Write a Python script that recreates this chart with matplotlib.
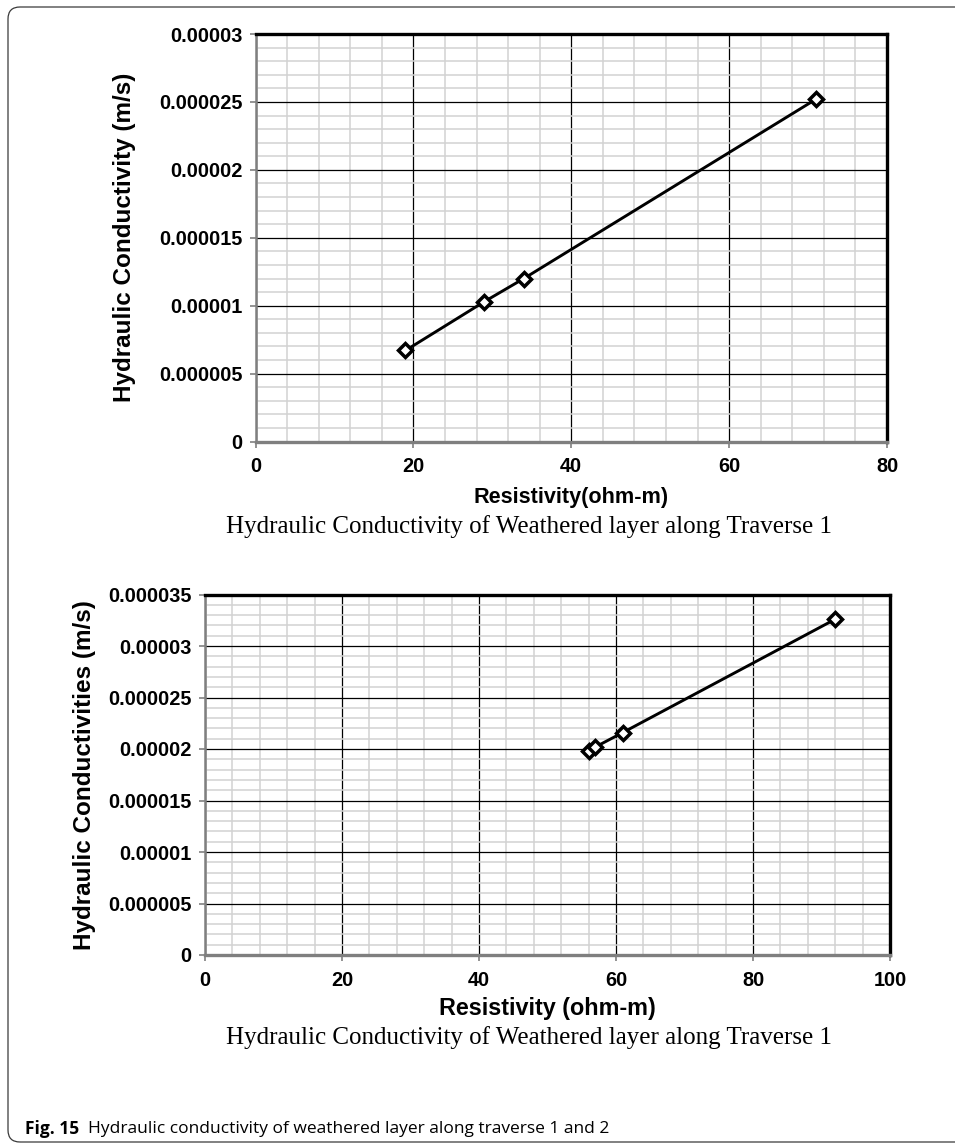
import numpy as np
import matplotlib
matplotlib.use("Agg")
from matplotlib import pyplot as plt
from matplotlib.ticker import MultipleLocator, FuncFormatter
from matplotlib.patches import FancyBboxPatch
from matplotlib.transforms import IdentityTransform

# traverse 1 (top panel)
t1_resistivity = [19, 29, 34, 71]
t1_conductivity = [6.7e-6, 1.03e-5, 1.2e-5, 2.52e-5]

# traverse 2 (bottom panel)
t2_resistivity = [56, 57, 61, 92]
t2_conductivity = [1.98e-5, 2.02e-5, 2.16e-5, 3.26e-5]

caption = "Hydraulic Conductivity of Weathered layer along Traverse 1"

W, H = 955, 1144
fig = plt.figure(figsize=(W / 100, H / 100), dpi=100)

SANS = "Liberation Sans"


def fmt(v, pos):
    s = format(v, ".6f").rstrip("0").rstrip(".")
    return s if s else "0"


def style_axes(ax, xmax, ymax):
    ax.set_xlim(0, xmax)
    ax.set_ylim(0, ymax)
    ax.xaxis.set_major_locator(MultipleLocator(20))
    ax.xaxis.set_minor_locator(MultipleLocator(4))
    ax.yaxis.set_major_locator(MultipleLocator(5e-6))
    ax.yaxis.set_minor_locator(MultipleLocator(1e-6))
    ax.yaxis.set_major_formatter(FuncFormatter(fmt))
    ax.grid(which="minor", color="#d2d2d2", lw=1.1, zorder=0)
    ax.grid(which="major", color="black", lw=0.9, zorder=1)
    ax.set_axisbelow(True)
    ax.tick_params(which="major", direction="out", length=4.5, width=1.2,
                   color="#808080", labelsize=14.3)
    ax.tick_params(axis="x", pad=7)
    ax.tick_params(axis="y", pad=5)
    ax.tick_params(which="minor", length=0)
    for lab in ax.get_xticklabels() + ax.get_yticklabels():
        lab.set_fontfamily(SANS)
        lab.set_fontweight("bold")
    ax.spines["left"].set_color("#7f7f7f")
    ax.spines["left"].set_linewidth(1.8)
    ax.spines["bottom"].set_color("#7f7f7f")
    ax.spines["bottom"].set_linewidth(2.4)
    ax.spines["top"].set_color("black")
    ax.spines["top"].set_linewidth(2.4)
    ax.spines["right"].set_color("black")
    ax.spines["right"].set_linewidth(2.4)


def plot_series(ax, x, y):
    ax.plot(x, y, color="black", lw=2.1, marker="D", markersize=7.5,
            markerfacecolor="white", markeredgecolor="black",
            markeredgewidth=2.5, zorder=3, clip_on=False)


# top panel
ax1 = fig.add_axes([255.5 / W, 1 - 441.5 / H, 631.5 / W, 407.5 / H])
style_axes(ax1, 80, 3e-5)
plot_series(ax1, t1_resistivity, t1_conductivity)
ax1.set_xlabel("Resistivity(ohm-m)", fontfamily=SANS, fontweight="bold",
               fontsize=15.6, va="center")
ax1.xaxis.set_label_coords(0.5, -(498 - 441.5) / 407.5)
ax1.set_ylabel("Hydraulic Conductivity (m/s)", fontfamily=SANS,
               fontweight="bold", fontsize=17.5, va="center")
ax1.yaxis.set_label_coords(-(255.5 - 125) / 631.5, 0.5)

# bottom panel
ax2 = fig.add_axes([205 / W, 1 - 955 / H, 685 / W, 360.5 / H])
style_axes(ax2, 100, 3.5e-5)
plot_series(ax2, t2_resistivity, t2_conductivity)
ax2.set_xlabel("Resistivity (ohm-m)", fontfamily=SANS, fontweight="bold",
               fontsize=16.8, va="center")
ax2.xaxis.set_label_coords(0.5, -(1008 - 955) / 360.5)
ax2.set_ylabel("Hydraulic Conductivities (m/s)", fontfamily=SANS,
               fontweight="bold", fontsize=17.5, va="center")
ax2.yaxis.set_label_coords(-(205 - 85) / 685, 0.5)

# panel captions, sized to the reference width (~605 px)
caps = []
for yc in (527, 1038):
    caps.append(fig.text(529 / W, 1 - yc / H, caption, family="Liberation Serif",
                         fontsize=18, ha="center", va="center"))
fig.canvas.draw()
w = caps[0].get_window_extent().width
for c in caps:
    c.set_fontsize(18 * 605 / w)

# figure caption
t = fig.text(25 / W, 1 - 1129 / H, "Fig. 15", family="Open Sans",
             fontweight="bold", fontsize=12.5, ha="left", va="center")
fig.canvas.draw()
bb = t.get_window_extent()
fig.text((bb.x1 + 9) / W, 1 - 1129 / H,
         "Hydraulic conductivity of weathered layer along traverse 1 and 2",
         family="Open Sans", fontsize=12.5, ha="left", va="center")

# outer frame
frame = FancyBboxPatch((8, 2), 1000, H - 9, boxstyle="round,pad=0,rounding_size=12",
                       transform=IdentityTransform(), fill=False,
                       edgecolor="#3a3a3a", lw=0.9)
fig.patches.append(frame)

fig.savefig("out.png", dpi=100)
